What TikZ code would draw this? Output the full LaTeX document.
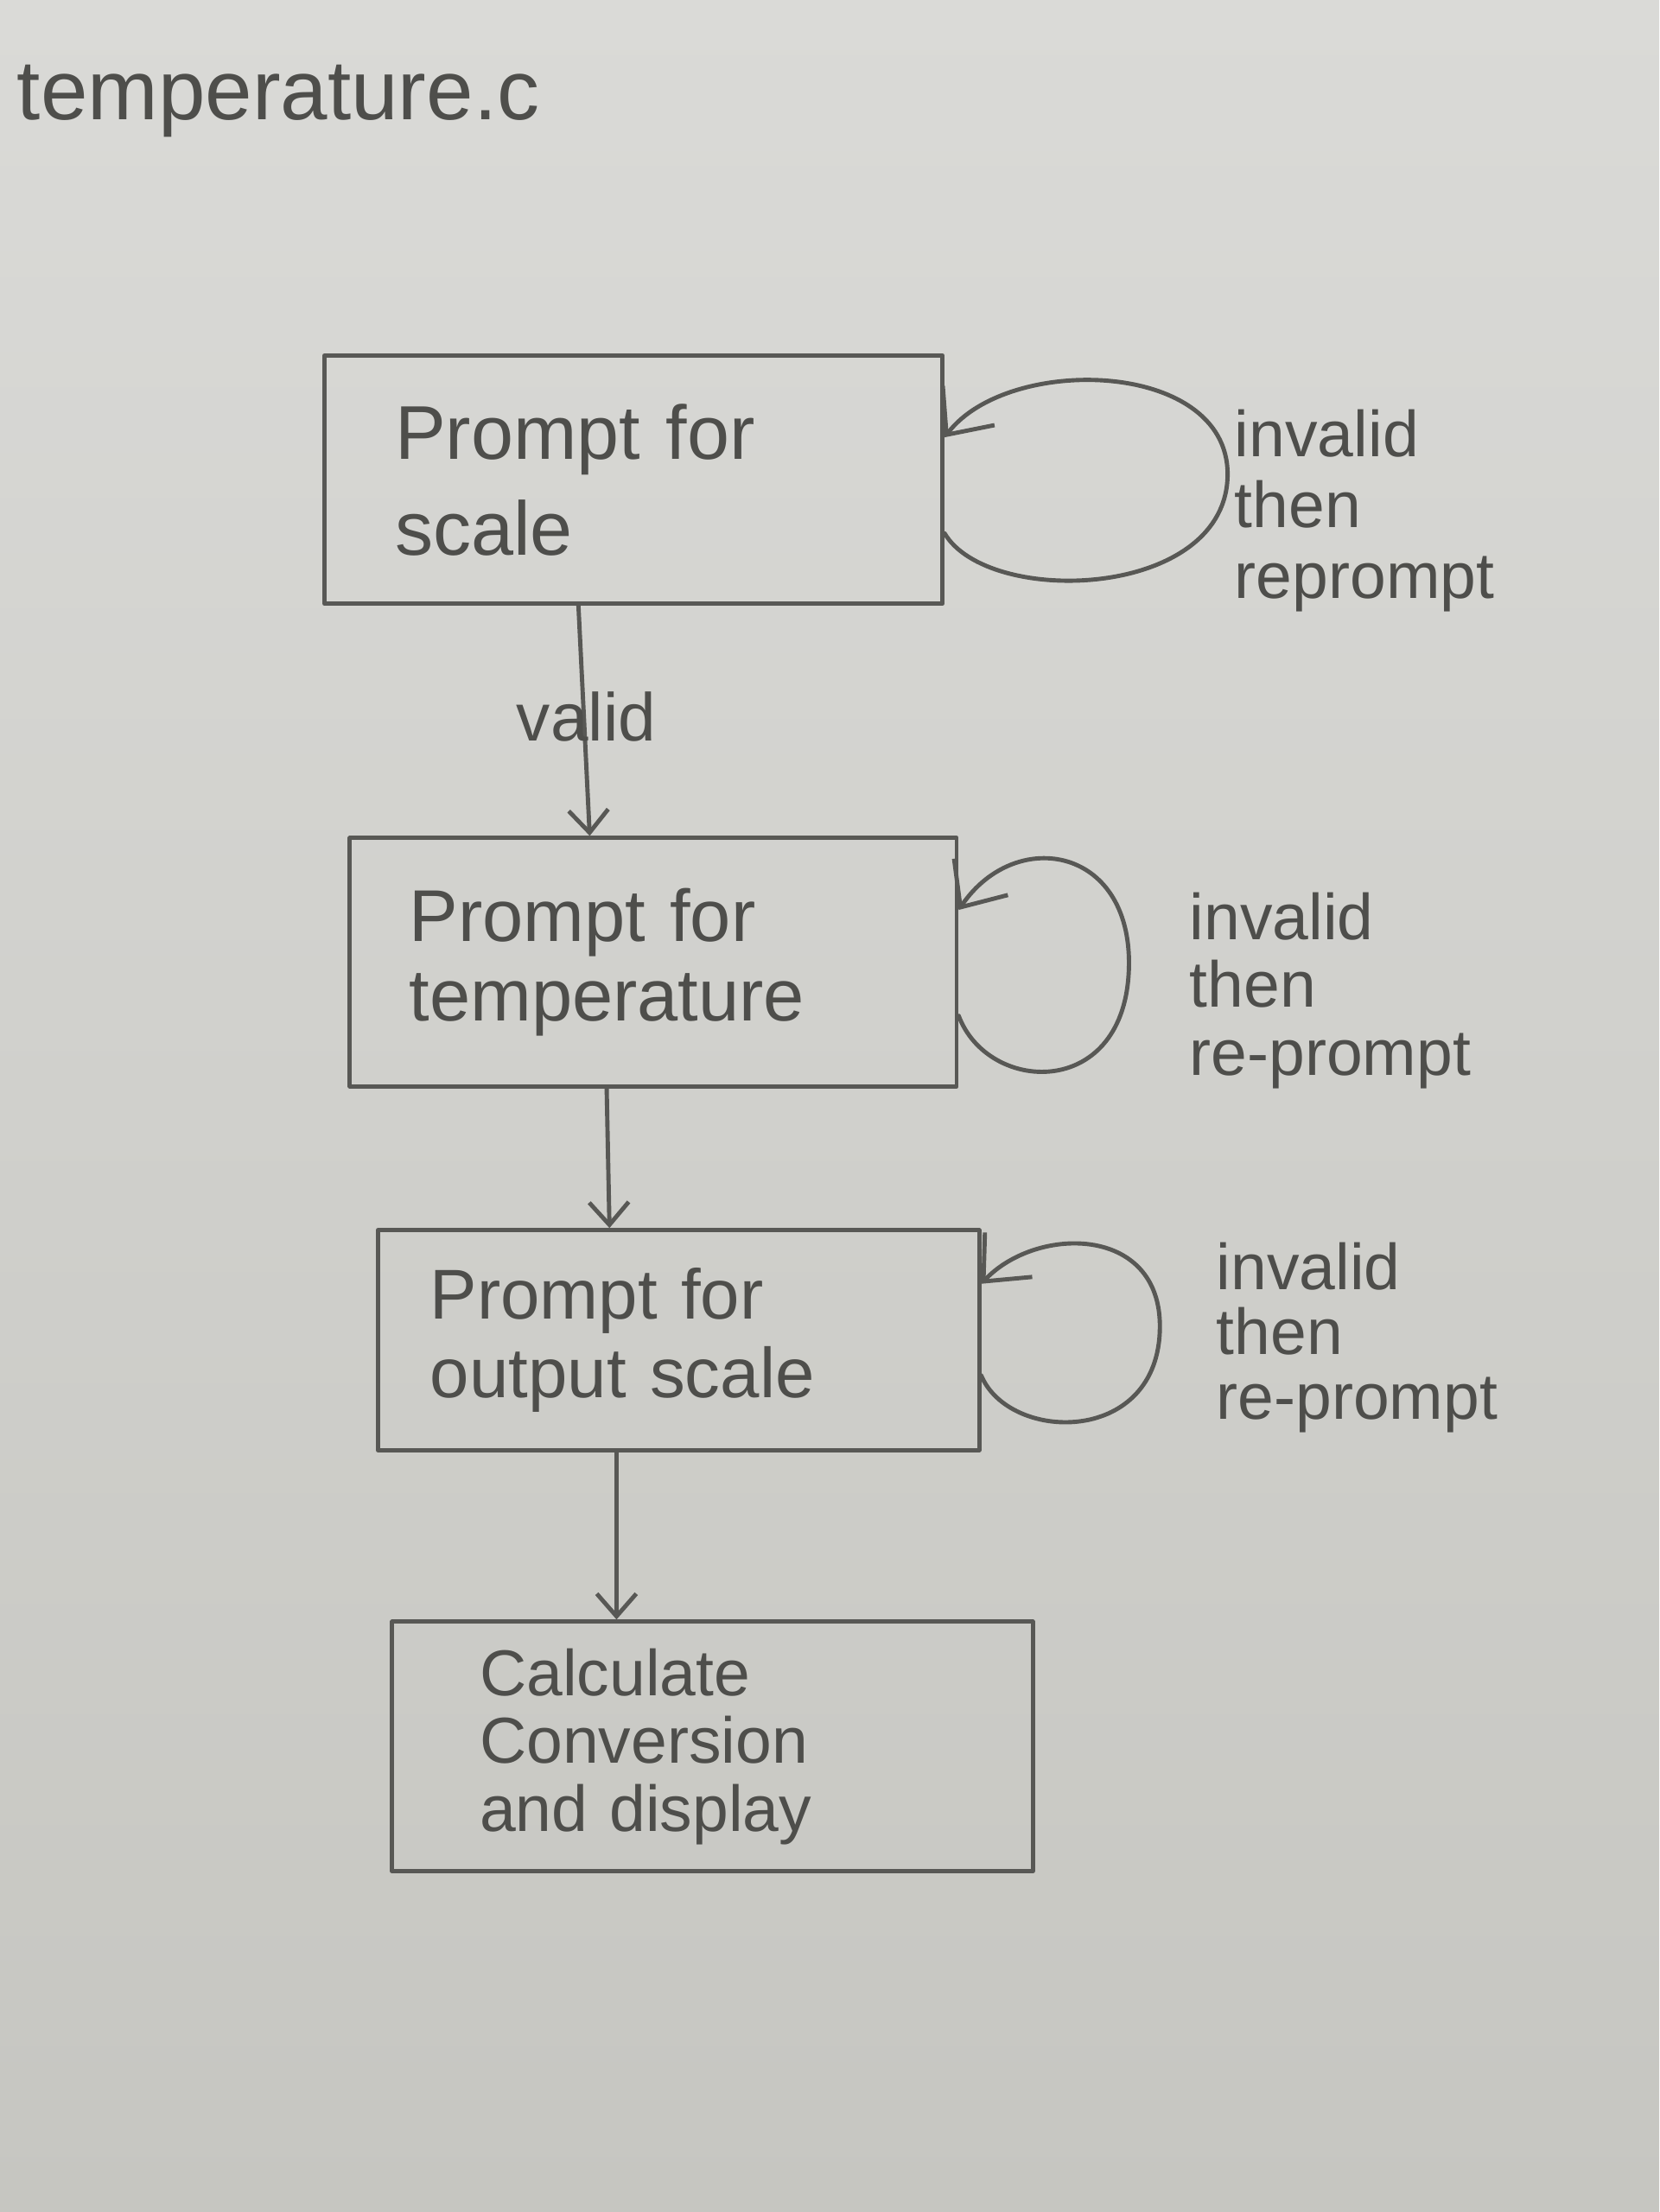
\documentclass[tikz,border=0pt]{standalone}
\usepackage{fontspec}
\setmainfont{Liberation Sans}
\usetikzlibrary{arrows.meta}
\definecolor{paper}{HTML}{DADAD7}
\definecolor{paperdark}{HTML}{C6C6C1}
\definecolor{pencil}{HTML}{585855}
\definecolor{ink}{HTML}{4E4E4B}
\begin{document}
\begin{tikzpicture}[x=1pt,y=-1pt,
  pen/.style={draw=pencil, line width=3pt, line cap=round, line join=round},
  stepbox/.style={pen, rectangle, inner ysep=0pt, align=left, text=ink, anchor=center},
  lbl/.style={text=ink, inner sep=0pt, align=left, anchor=base west},
  downarr/.style={pen, -{Straight Barb[length=16pt,width=28pt,line width=3pt]}},
  looparr/.style={pen, -{Straight Barb[length=26pt,width=46pt,line width=3pt]}}]
\shade[top color=paper, bottom color=paperdark] (0,0) rectangle (1176,1568);
\useasboundingbox (0,0) rectangle (1176,1568);

\node[lbl, font=\fontsize{60}{64}\selectfont] (title) at (12,85) {temperature.c};

\node[stepbox, minimum width=438pt, minimum height=176pt, inner xsep=50pt, text width=338pt,
  font=\fontsize{54}{68}\selectfont] (b1) at (449,340) {Prompt for\\scale};
\node[stepbox, minimum width=430pt, minimum height=176pt, inner xsep=42pt, text width=346pt,
  font=\fontsize{52}{56}\selectfont] (b2) at (463,682) {Prompt for\\temperature};
\node[stepbox, minimum width=426pt, minimum height=156pt, inner xsep=37pt, text width=352pt,
  font=\fontsize{50}{56}\selectfont] (b3) at (481,950) {Prompt for\\output scale};
\node[stepbox, minimum width=454pt, minimum height=177pt, inner xsep=62pt, text width=330pt,
  font=\fontsize{46}{48}\selectfont] (b4) at (505,1238) {Calculate\\Conversion\\and display};

\draw[downarr] ([xshift=-39pt]b1.south) -- ([xshift=-45pt]b2.north);
\draw[downarr] ([xshift=-33pt]b2.south) -- ([xshift=-49pt]b3.north);
\draw[downarr] ([xshift=-44pt]b3.south) -- ([xshift=-68pt]b4.north);

\node[lbl, font=\fontsize{48}{50}\selectfont] (valid) at (366,525) {valid};

\draw[looparr] ([yshift=-38pt]b1.east) .. controls (700,430) and (865,425) .. (870,340)
  .. controls (875,255) and (715,250) .. ([yshift=30pt]b1.east);
\draw[looparr] ([yshift=-38pt]b2.east) .. controls (700,775) and (795,780) .. (800,690)
  .. controls (805,600) and (720,585) .. ([yshift=37pt]b2.east);
\draw[looparr] ([yshift=-25pt]b3.east) .. controls (715,1022) and (818,1025) .. (822,945)
  .. controls (826,868) and (735,868) .. ([yshift=40pt]b3.east);

\node[lbl, font=\fontsize{46}{50}\selectfont] (inv1) at (875,424) {invalid\\then\\reprompt};
\node[lbl, font=\fontsize{46}{48}\selectfont] (inv2) at (843,762) {invalid\\then\\re-prompt};
\node[lbl, font=\fontsize{46}{46}\selectfont] (inv3) at (862,1006) {invalid\\then\\re-prompt};
\end{tikzpicture}
\end{document}
